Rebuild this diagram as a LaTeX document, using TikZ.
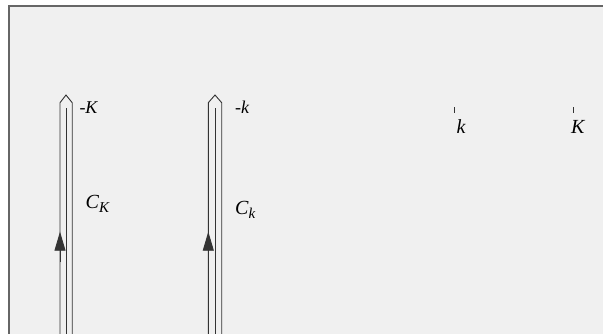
\documentclass[tikz,border=0pt]{standalone}
\usepackage{fontspec}
\setmainfont{Liberation Serif}
\usepackage{tikz}
\usetikzlibrary{arrows.meta}

\definecolor{paper}{HTML}{F0F0F0}
\definecolor{rim}{HTML}{666666}
\definecolor{ink}{HTML}{333333}

\newcommand{\sublab}[1]{{\fontsize{15}{15}\selectfont\raisebox{-4.5pt}{#1}}}

\begin{document}
\begin{tikzpicture}[x=1pt, y=-1pt,
    every node/.style={inner sep=0pt, font=\fontsize{18}{18}\selectfont\itshape},
    wire/.style={draw=ink, line width=0.9pt},
    flow/.style={draw=ink, fill=black, line width=0.9pt,
                 -{Triangle[length=19pt, width=11pt]}},
    tick/.style={draw=ink, line width=0.8pt},
    big/.style={font=\fontsize{20}{20}\selectfont\itshape}]
  \useasboundingbox (0,0) rectangle (603,334);
  % paper and frame
  \fill[paper] (8.5,6.5) rectangle (603,334);
  \draw[rim, line width=2pt] (8.5,334) -- (8.5,6.5) -- (603,6.5);

  % contour around -K
  \draw[wire] (60,334) -- (60,102.7) -- (66,95) -- (72.2,102.7) -- (72.2,334);
  \draw[wire] (66,108.3) -- (66,334);
  \draw[flow] (60,262) -- (60,231.7);
  \node[anchor=base west] (mK) at (79.3,113.3) {-K};
  \node[big, anchor=base west] (CK) at (85.5,208.5) {C\sublab{K}};

  % contour around -k
  \draw[wire] (208.3,334) -- (208.3,102.7) -- (215,95) -- (221.7,102.7) -- (221.7,334);
  \draw[wire] (215,108.3) -- (215,334);
  \draw[flow] (208.3,262) -- (208.3,231.7);
  \node[anchor=base west] (mk) at (235,113.3) {-k};
  \node[big, anchor=base west] (Ck) at (235,214.3) {C\sublab{k}};

  % marks on the axis
  \draw[tick] (454,107.3) -- (454,113);
  \node[big, anchor=base west] (k) at (456.5,133.3) {k};
  \draw[tick] (573,107.3) -- (573,113);
  \node[big, anchor=base west] (K) at (571,133.3) {K};
\end{tikzpicture}
\end{document}
